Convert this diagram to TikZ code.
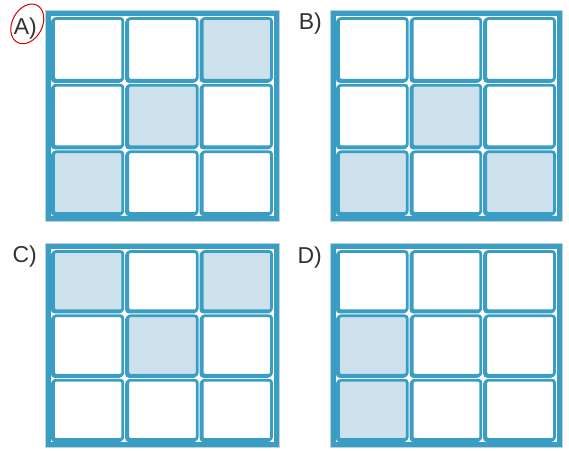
\documentclass[tikz,border=0pt]{standalone}
\usepackage{fontspec}
\setmainfont{Liberation Sans}
\usepackage{xstring}
\usetikzlibrary{positioning,shadows}
\definecolor{gridblue}{HTML}{3A9EC4}
\definecolor{softshade}{HTML}{CDE1EC}
\definecolor{rimgray}{HTML}{BFD3DC}
\definecolor{inkgray}{HTML}{333333}

\begin{document}
\begin{tikzpicture}[x=1pt,y=1pt,font=\fontsize{23}{26}\selectfont]
\tikzset{panel/.style n args={2}{draw=gridblue,line width=5pt,fill=white,preaction={draw=rimgray,line width=7pt},minimum width=#1,minimum height=#2,inner sep=0pt}}
\tikzset{cell/.style={draw=gridblue,line width=2.8pt,rounded corners=2.5pt,inner sep=0pt,drop shadow={shadow xshift=-1.2pt,shadow yshift=-1.2pt,draw=gridblue,fill=gridblue,line width=2.8pt,opacity=1}}}
\tikzset{tag/.style={text=inkgray,inner sep=0pt,anchor=north east}}
\tikzset{markring/.style={draw=red!85!black,line width=1pt}}
\useasboundingbox (0,0) rectangle (569,450);
\foreach \p/\cx/\cy/\w/\h/\ly/\s in {A/162.5/334/235/212/-7/{13,22,31},B/446.5/334/233/212/-2/{22,31,33},C/162.5/104.5/235/205/-2/{11,13,22},D/446.5/104.5/233/205/-3/{21,31}} {
  \node[panel={\w-7}{\h-7}] (\p) at (\cx,\cy) {};
  \node[tag] (lab-\p) at ([xshift=-9pt,yshift=\ly]\p.north west) {\p)};
  \pgfmathsetmacro\px{(\w-12)/3}
  \pgfmathsetmacro\py{(\h-12)/3}
  \foreach \r in {1,2,3} \foreach \c in {1,2,3} {
    \IfSubStr{\s}{\r\c}{\def\cellfill{softshade}}{\def\cellfill{white}}
    \node[cell,fill=\cellfill,minimum width=\px-5,minimum height=\py-5] (\p-\r\c) at ([xshift={(\c-2)*\px},yshift={(2-\r)*\py}]\p.center) {};
  }
}
\coordinate (ring) at ([xshift=2pt,yshift=5pt]lab-A.center);
\draw[markring,rotate around={-28:(ring)}] (ring) ellipse (15 and 21);
\end{tikzpicture}
\end{document}
